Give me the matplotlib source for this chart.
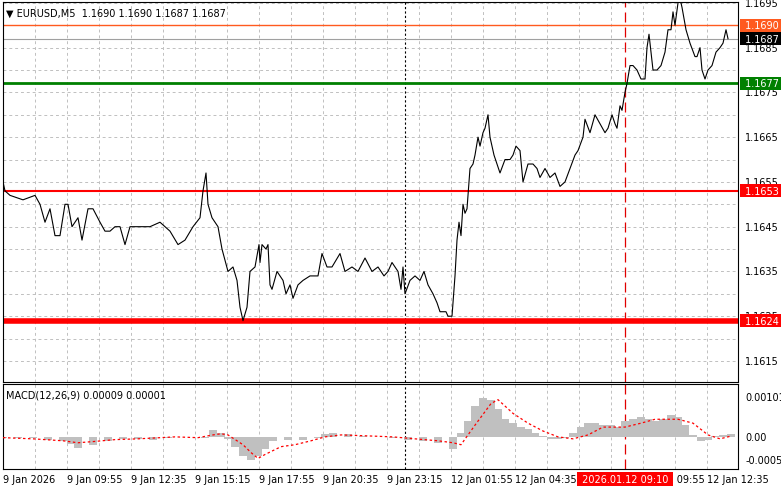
import matplotlib
matplotlib.use("Agg")
import matplotlib.pyplot as plt
import numpy as np

# price samples: (bar index, close)
price_pts = [(0,1.1655),(2,1.1653),(7,1.1652),(20,1.1651),(32,1.1652),(37,1.1650),(42,1.1646),(47,1.1649),
 (52,1.1643),(57,1.1643),(62,1.1650),(65,1.1650),(69,1.1645),(75,1.1647),(79,1.1642),(85,1.1649),(90,1.1649),
 (97,1.1646),(102,1.1644),(107,1.1644),(112,1.1645),(117,1.1645),(122,1.1641),(127,1.1645),(137,1.1645),
 (147,1.1645),(157,1.1646),(167,1.1644),(175,1.1641),(182,1.1642),(190,1.1645),(197,1.1647),(200,1.1653),
 (203,1.1657),(205,1.1650),(209,1.1647),(215,1.1645),(219,1.1640),(225,1.1635),(230,1.1636),(234,1.1633),
 (237,1.1627),(240,1.1624),(244,1.1627),(247,1.1635),(252,1.1636),(256,1.1641),(257,1.1637),(259,1.1641),
 (263,1.1640),(265,1.1641),(267,1.1632),(269,1.1631),(274,1.1635),(280,1.1633),(283,1.1630),(287,1.1632),
 (290,1.1629),(295,1.1632),(300,1.1633),(307,1.1634),(315,1.1634),(319,1.1639),(324,1.1636),(329,1.1636),
 (337,1.1639),(342,1.1635),(349,1.1636),(355,1.1635),(362,1.1638),(369,1.1635),(375,1.1636),(381,1.1634),
 (385,1.1635),(389,1.1637),(395,1.1635),(398,1.1631),(400,1.1636),(402,1.1630),(407,1.1633),(412,1.1634),
 (417,1.1633),(421,1.1635),(425,1.1632),(430,1.1630),(434,1.1628),(437,1.1626),(443,1.1626),(445,1.1625),
 (449,1.1625),(452,1.1634),(454,1.1642),(456,1.1646),(458,1.1643),(460,1.1650),(462,1.1648),(464,1.1649),
 (467,1.1658),(470,1.1659),(472,1.1661),(475,1.1665),(477,1.1663),(480,1.1666),(482,1.1667),(485,1.1670),
 (487,1.1665),(491,1.1661),(494,1.1659),(497,1.1657),(502,1.1660),(507,1.1660),(510,1.1661),(513,1.1663),
 (517,1.1662),(520,1.1655),(525,1.1659),(530,1.1659),(534,1.1658),(537,1.1656),(542,1.1658),(547,1.1656),
 (552,1.1657),(557,1.1654),(562,1.1655),(567,1.1658),(572,1.1661),(575,1.1662),(580,1.1665),(582,1.1669),
 (587,1.1666),(592,1.1670),(597,1.1668),(602,1.1666),(605,1.1667),(609,1.1670),(612,1.1668),(614,1.1667),
 (617,1.1672),(619,1.1671),(622,1.1675),(624,1.1677),(627,1.1681),(630,1.1681),(634,1.1680),(638,1.1678),
 (642,1.1678),(644,1.1685),(646,1.1688),(650,1.1680),(654,1.1680),(658,1.1681),(662,1.1684),(665,1.1689),
 (668,1.1689),(670,1.1693),(672,1.1690),(675,1.1695),(677,1.1696),(679,1.1694),(683,1.1689),(687,1.1686),
 (692,1.1683),(694,1.1683),(697,1.1685),(699,1.1680),(702,1.1678),(705,1.1680),(709,1.1681),(713,1.1684),
 (717,1.1685),(720,1.1686),(723,1.1689),(725,1.1687)]
price_x = [p[0] for p in price_pts]
price_y = [p[1] for p in price_pts]

macd_x = [0,15,30,45,60,68,75,90,105,120,135,150,165,180,195,202,210,218,225,232,240,248,255,262,270,285,300,315,322,330,345,360,375,390,405,420,435,450,458,465,472,480,488,495,502,510,518,525,532,540,548,555,562,570,578,585,592,600,608,615,622,630,638,645,652,660,668,675,682,690,698,705,712,720,728]
macd_h = [-2,-2,-2,-7,-10,-19,-28,-20,-11,-5,-5,-7,-3,0,0,-4,18,10,-5,-25,-49,-60,-50,-30,-10,-8,-8,-4,8,10,8,2,0,-2,-8,-10,-15,-30,10,40,80,100,95,70,45,35,25,20,10,3,-5,-5,-2,10,25,35,35,30,30,25,40,45,50,45,40,45,55,50,30,5,-10,-7,2,5,8]
sig_x = [0,30,60,75,90,112,135,150,172,195,210,218,225,240,248,255,262,278,292,308,322,338,360,390,412,435,450,458,472,488,495,510,525,540,555,570,585,600,622,638,652,675,690,705,717,728]
sig_y = [-2,-5,-10,-15,-12,-7,-5,-3,0,-2,5,8,5,-20,-40,-55,-45,-25,-20,-10,0,5,3,0,-5,-10,-15,-20,30,85,95,60,35,15,0,-5,5,25,25,35,45,45,35,5,-5,2]

levels = [(1.1690,'#ff5a1f',1.0,'1.1690'),(1.1677,'#008000',2.0,'1.1677'),
          (1.1653,'#ff0000',1.5,'1.1653'),(1.1624,'#ff0000',4.0,'1.1624')]
time_labels = ['9 Jan 2026','9 Jan 09:55','9 Jan 12:35','9 Jan 15:15','9 Jan 17:55','9 Jan 20:35','9 Jan 23:15','12 Jan 01:55','12 Jan 04:35','12 Jan 07:15','12 Jan 09:55','12 Jan 12:35']

W,H = 781,489
fig = plt.figure(figsize=(W/100,H/100),dpi=100)
fig.patch.set_facecolor('white')
xmax = 735
ax = fig.add_axes([3/W,(H-383)/H,735/W,380/H])
ax2 = fig.add_axes([3/W,(H-470)/H,735/W,85/H])
for a in (ax,ax2):
    a.set_xlim(0,xmax)
    a.set_xticks([]); a.set_yticks([])
    for s in a.spines.values(): s.set_linewidth(0.8)
    for gx in range(0,xmax,32):
        a.axvline(gx,color='#c0c0c0',ls=(0,(3,3)),lw=0.7,zorder=0)
    a.axvline(402,color='black',ls=(0,(2,2)),lw=0.8,zorder=1)
    a.axvline(622,color='#e00000',ls=(0,(8,4)),lw=0.9,zorder=1)

ax.set_ylim(1.16103,1.16952)
for p in np.arange(1.1615,1.1696,0.0005):
    ax.axhline(p,color='#c0c0c0',ls=(0,(3,3)),lw=0.7,zorder=0)
ax.axhline(1.1687,color='#a0a0a0',lw=0.8,zorder=1)
ax.plot(price_x,price_y,color='black',lw=0.8,zorder=3)
for p,c,lw,t in levels:
    ax.axhline(p,color=c,lw=lw,zorder=2)
for p in np.arange(1.1615,1.1696,0.0010):
    ax.text(1.01,p,f'{p:.4f}',transform=ax.get_yaxis_transform(),fontsize=7,va='center',ha='left',clip_on=False)
for p,c,lw,t in levels+[(1.1687,'black',1,'1.1687')]:
    ax.text(1.005,p,' '+t+' ',transform=ax.get_yaxis_transform(),fontsize=7,va='center',ha='left',color='white',
            bbox=dict(boxstyle='square,pad=0.15',fc=c,ec='none'),zorder=5,clip_on=False)
ax.text(0.004,0.985,'\u25bc EURUSD,M5  1.1690 1.1690 1.1687 1.1687',transform=ax.transAxes,fontsize=7,va='top',ha='left')

ax2.set_ylim(-82e-5,135e-5)
ax2.bar(macd_x,np.array(macd_h)*1e-5,width=7.5,color='#c0c0c0',zorder=2)
ax2.plot(sig_x,np.array(sig_y)*1e-5,color='red',ls=(0,(2,2)),lw=0.9,zorder=3)
for v,t in [(101e-5,'0.00101'),(0,'0.00'),(-58e-5,'-0.00058')]:
    ax2.text(1.01,v,t,transform=ax2.get_yaxis_transform(),fontsize=7,va='center',ha='left',clip_on=False)
ax2.text(0.004,0.93,'MACD(12,26,9) 0.00009 0.00001',transform=ax2.transAxes,fontsize=7,va='top',ha='left')
for i,t in enumerate(time_labels):
    x = i*64
    if t == '12 Jan 07:15':
        continue
    ax2.text(x,-0.06,t,transform=ax2.get_xaxis_transform(),fontsize=7,va='top',ha='left')
ax2.text(622,-0.06,' 2026.01.12 09:10 ',transform=ax2.get_xaxis_transform(),fontsize=7,va='top',ha='center',color='white',
         bbox=dict(boxstyle='square,pad=0.2',fc='#ff0000',ec='none'),zorder=6)
fig.savefig('out.png',dpi=100)
